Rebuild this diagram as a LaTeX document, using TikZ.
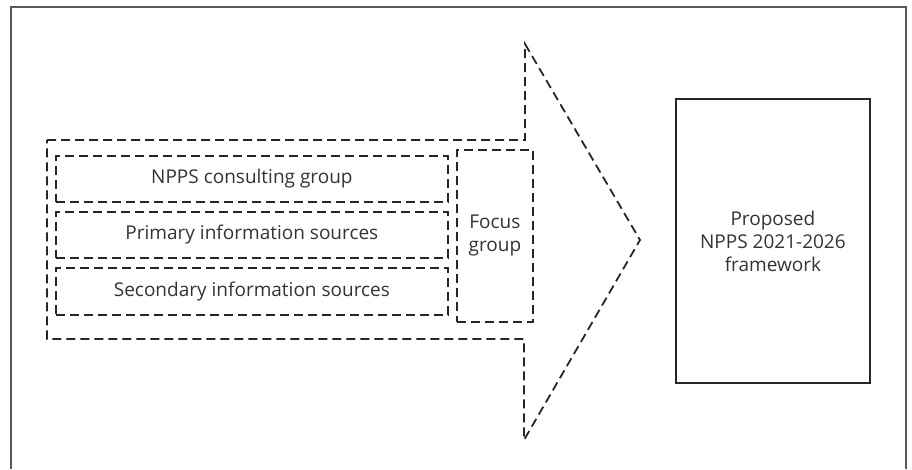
\documentclass[tikz,border=0pt]{standalone}
\usepackage{fontspec}
\setmainfont{Open Sans}
\begin{document}
\begin{tikzpicture}[x=1pt,y=-1pt,
  dashline/.style={draw=black!85, line width=1.8pt, dash pattern=on 9pt off 5pt},
  box/.style={dashline, rectangle, inner sep=0pt, anchor=north west},
  lbl/.style={text=black!80, font=\fontsize{19}{23}\selectfont, align=center},
  frame/.style={draw=black!65, line width=1.6pt}]
\useasboundingbox (0,0) rectangle (912,469);
\draw[frame] (11,469) -- (11,7) -- (906,7) -- (906,469);
% big arrow
\draw[dashline] (47,140) -- (525,140) -- (525,44) -- (640,240) -- (524,440) -- (524,339) -- (47,339) -- cycle;
% inner boxes
\node[box, minimum width=392pt, minimum height=46pt] (b1) at (55,155) {};
\node[box, minimum width=392pt, minimum height=46pt] (b2) at (55,211) {};
\node[box, minimum width=392pt, minimum height=47pt] (b3) at (55,267) {};
\node[box, minimum width=76pt, minimum height=172pt] (fg) at (456,149) {};
\node[lbl] at (b1.center) {NPPS consulting group};
\node[lbl] at (b2.center) {Primary information sources};
\node[lbl] at (b3.center) {Secondary information sources};
\node[lbl] at (fg.center) {Focus\\group};
% output box
\node[draw=black!85, line width=1.8pt, rectangle, inner sep=0pt, anchor=north west,
  minimum width=194pt, minimum height=284pt] (out) at (675,98) {};
\node[lbl] at (out.center) {Proposed\\NPPS 2021-2026\\framework};
\end{tikzpicture}
\end{document}
